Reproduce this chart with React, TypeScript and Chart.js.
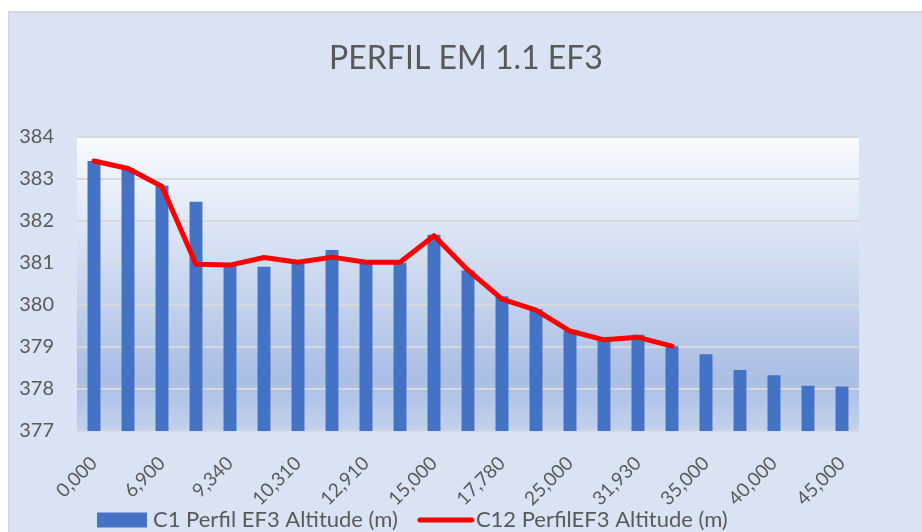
import React, { useEffect, useRef } from "react";
import { Chart, registerables } from "chart.js";

Chart.register(...registerables);

const categories = [
  "0,000", "3,450", "6,900", "8,120", "9,340", "9,820", "10,310", "11,610",
  "12,910", "13,950", "15,000", "16,390", "17,780", "21,390", "25,000", "28,460",
  "31,930", "33,460", "35,000", "37,500", "40,000", "42,500", "45,000",
];

const c1Altitude = [
  383.43, 383.26, 382.84, 382.46, 380.93, 380.91, 380.99, 381.31,
  381.0, 381.0, 381.67, 380.82, 380.21, 379.9, 379.38, 379.17,
  379.29, 379.02, 378.83, 378.45, 378.33, 378.08, 378.06,
];

const c12Altitude: (number | null)[] = [
  383.43, 383.25, 382.82, 380.97, 380.95, 381.13, 381.02, 381.14,
  381.02, 381.02, 381.65, 380.83, 380.14, 379.88, 379.38, 379.17,
  379.23, 379.02, null, null, null, null, null,
];

const seriesNames = ["C1 Perfil EF3 Altitude (m)", "C12 PerfilEF3 Altitude (m)"];
const chartTitle = "PERFIL EM 1.1 EF3";
const yTicks = [377, 378, 379, 380, 381, 382, 383, 384];

const FONT = "Lato, 'Open Sans', sans-serif";
const TEXT = "#595959";
const BAR = "#4472C4";
const LINE = "#FF0000";

const plotBg = {
  id: "plotBg",
  beforeDraw(chart: any) {
    const { ctx, chartArea } = chart;
    if (!chartArea) return;
    const g = ctx.createLinearGradient(0, chartArea.top, 0, chartArea.bottom);
    g.addColorStop(0, "#FAFBFE");
    g.addColorStop(0.35, "#D9E2F3");
    g.addColorStop(0.82, "#AABEE3");
    g.addColorStop(1, "#C2D1EC");
    ctx.save();
    ctx.fillStyle = g;
    ctx.fillRect(chartArea.left, chartArea.top, chartArea.right - chartArea.left, chartArea.bottom - chartArea.top);
    ctx.restore();
  },
};

const customLegend = {
  id: "customLegend",
  afterDraw(chart: any) {
    const { ctx } = chart;
    const ds = chart.data.datasets;
    ctx.save();
    ctx.font = `22px ${FONT}`;
    ctx.textBaseline = "middle";
    const cy = 507;
    let x = 87;
    ctx.fillStyle = ds[0].backgroundColor;
    ctx.fillRect(x, cy - 7.5, 50, 15);
    x += 56;
    ctx.fillStyle = TEXT;
    ctx.fillText(ds[0].label, x, cy);
    x += ctx.measureText(ds[0].label).width + 20;
    ctx.strokeStyle = ds[1].borderColor;
    ctx.lineWidth = 5;
    ctx.lineCap = "round";
    ctx.beginPath();
    ctx.moveTo(x + 2, cy);
    ctx.lineTo(x + 54, cy);
    ctx.stroke();
    x += 58;
    ctx.fillText(ds[1].label, x, cy);
    ctx.restore();
  },
};

export default function App() {
  const ref = useRef<HTMLCanvasElement>(null);
  useEffect(() => {
    document.body.style.overflow = "hidden";
    const chart = new Chart(ref.current!, {
      type: "bar",
      data: {
        labels: categories,
        datasets: [
          {
            type: "bar",
            label: seriesNames[0],
            data: c1Altitude,
            backgroundColor: BAR,
            borderWidth: 0,
            barPercentage: 0.38,
            categoryPercentage: 1,
            order: 2,
          },
          {
            type: "line",
            label: seriesNames[1],
            data: c12Altitude,
            borderColor: LINE,
            backgroundColor: LINE,
            borderWidth: 5,
            pointRadius: 0,
            tension: 0,
            borderJoinStyle: "round",
            borderCapStyle: "round",
            order: 1,
          } as any,
        ],
      },
      options: {
        animation: false,
        responsive: false,
        layout: { padding: 0 },
        plugins: {
          legend: { display: false },
          tooltip: { enabled: false },
          title: {
            display: true,
            text: chartTitle,
            color: TEXT,
            font: { family: FONT, size: 32, weight: "normal", lineHeight: 1.2 },
            padding: { top: 26, bottom: 59.6 },
          },
        },
        scales: {
          x: {
            offset: true,
            grid: { display: false, drawTicks: false },
            border: { display: false },
            ticks: {
              autoSkip: false,
              minRotation: 45,
              maxRotation: 45,
              padding: 21,
              color: TEXT,
              font: { family: FONT, size: 19 },
              callback: (_v: any, i: number) => (i % 2 === 0 ? categories[i] : ""),
            },
            afterFit: (s: any) => {
              s.height = 101;
            },
          },
          y: {
            min: yTicks[0],
            max: yTicks[yTicks.length - 1],
            grid: { color: "#D6D9DE", lineWidth: 2, drawTicks: false },
            border: { display: false },
            ticks: {
              stepSize: 1,
              padding: 23,
              color: TEXT,
              font: { family: FONT, size: 20 },
            },
            afterFit: (s: any) => {
              s.width = 67;
            },
          },
          yRight: {
            position: "right",
            display: true,
            min: yTicks[0],
            max: yTicks[yTicks.length - 1],
            grid: { display: false, drawTicks: false },
            border: { display: false },
            ticks: { display: false },
            afterFit: (s: any) => {
              s.width = 63;
            },
          },
        },
      },
      plugins: [plotBg, customLegend],
    });
    return () => chart.destroy();
  }, []);

  return (
    <div
      style={{
        position: "absolute",
        left: 8,
        top: 11,
        width: 914,
        height: 521,
        boxSizing: "border-box",
        background: "#DAE3F3",
        borderLeft: "2px solid #D6D6D6",
        borderTop: "2px solid #D6D6D6",
      }}
    >
      <canvas ref={ref} width={912} height={519} style={{ display: "block" }} />
    </div>
  );
}
